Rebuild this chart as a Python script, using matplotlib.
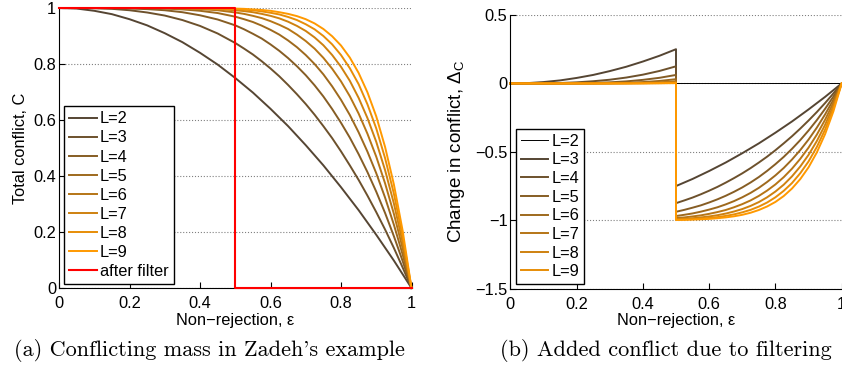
import matplotlib
matplotlib.use("Agg")
import matplotlib.pyplot as plt
import numpy as np

plt.rcParams["font.family"] = ["Liberation Sans", "DejaVu Sans"]

# non-rejection values the curves were read at
eps = [0.0, 0.05, 0.1, 0.15, 0.2, 0.25, 0.3, 0.35, 0.4, 0.45, 0.5,
       0.525, 0.55, 0.575, 0.6, 0.625, 0.65, 0.675, 0.7, 0.725, 0.75,
       0.775, 0.8, 0.825, 0.85, 0.875, 0.9, 0.925, 0.95, 0.975, 1.0]

# total conflict C for each L
c_L2 = [1.000, 0.998, 0.990, 0.978, 0.960, 0.938, 0.910, 0.878, 0.840, 0.798, 0.750,
        0.724, 0.698, 0.669, 0.640, 0.609, 0.578, 0.544, 0.510, 0.474, 0.438,
        0.399, 0.360, 0.319, 0.278, 0.234, 0.190, 0.144, 0.098, 0.049, 0.0]
c_L3 = [1.000, 1.000, 0.999, 0.997, 0.992, 0.984, 0.973, 0.957, 0.936, 0.909, 0.875,
        0.855, 0.834, 0.810, 0.784, 0.756, 0.725, 0.692, 0.657, 0.619, 0.578,
        0.535, 0.488, 0.438, 0.386, 0.330, 0.271, 0.209, 0.143, 0.073, 0.0]
c_L4 = [1.000, 1.000, 1.000, 0.999, 0.998, 0.996, 0.992, 0.985, 0.974, 0.959, 0.938,
        0.924, 0.908, 0.891, 0.870, 0.847, 0.821, 0.792, 0.760, 0.724, 0.684,
        0.639, 0.590, 0.537, 0.478, 0.414, 0.344, 0.268, 0.185, 0.096, 0.0]
c_L5 = [1.000, 1.000, 1.000, 1.000, 1.000, 0.999, 0.998, 0.995, 0.990, 0.982, 0.969,
        0.960, 0.950, 0.937, 0.922, 0.905, 0.884, 0.860, 0.832, 0.800, 0.763,
        0.720, 0.672, 0.618, 0.556, 0.487, 0.410, 0.323, 0.226, 0.119, 0.0]
c_L6 = [1.000, 1.000, 1.000, 1.000, 1.000, 1.000, 0.999, 0.998, 0.996, 0.992, 0.984,
        0.979, 0.972, 0.964, 0.953, 0.940, 0.925, 0.905, 0.882, 0.855, 0.822,
        0.783, 0.738, 0.685, 0.623, 0.551, 0.469, 0.374, 0.265, 0.141, 0.0]
c_L7 = [1.000, 1.000, 1.000, 1.000, 1.000, 1.000, 1.000, 0.999, 0.998, 0.996, 0.992,
        0.989, 0.985, 0.979, 0.972, 0.963, 0.951, 0.936, 0.918, 0.895, 0.867,
        0.832, 0.790, 0.740, 0.679, 0.607, 0.522, 0.421, 0.302, 0.162, 0.0]
c_L8 = [1.000, 1.000, 1.000, 1.000, 1.000, 1.000, 1.000, 1.000, 0.999, 0.998, 0.996,
        0.994, 0.992, 0.988, 0.983, 0.977, 0.968, 0.957, 0.942, 0.924, 0.900,
        0.870, 0.832, 0.785, 0.728, 0.656, 0.570, 0.464, 0.337, 0.183, 0.0]
c_L9 = [1.000, 1.000, 1.000, 1.000, 1.000, 1.000, 1.000, 1.000, 1.000, 0.999, 0.998,
        0.997, 0.995, 0.993, 0.990, 0.985, 0.979, 0.971, 0.960, 0.945, 0.925,
        0.899, 0.866, 0.823, 0.768, 0.699, 0.613, 0.504, 0.370, 0.204, 0.0]
curves = [c_L2, c_L3, c_L4, c_L5, c_L6, c_L7, c_L8, c_L9]
labels_a = ["L=2", "L=3", "L=4", "L=5", "L=6", "L=7", "L=8", "L=9"]

# conflict after the filter (step at the cutoff)
cutoff = 0.5
filter_eps = [0.0, 0.5, 0.5, 1.0]
filter_c = [1.0, 1.0, 0.0, 0.0]

# legend of panel b (the zero line took the first label)
labels_b = ["L=2", "L=3", "L=4", "L=5", "L=6", "L=7", "L=8", "L=9"]

xticks = [0, 0.2, 0.4, 0.6, 0.8, 1]
xticklabels = ["0", "0.2", "0.4", "0.6", "0.8", "1"]
yticks_a = [0, 0.2, 0.4, 0.6, 0.8, 1]
yticklabels_a = ["0", "0.2", "0.4", "0.6", "0.8", "1"]
yticks_b = [-1.5, -1, -0.5, 0, 0.5]
yticklabels_b = ["\u22121.5", "\u22121", "\u22120.5", "0", "0.5"]

c0 = np.array([0x55, 0x45, 0x33]) / 255
c1 = np.array([0xff, 0x99, 0x00]) / 255
colors = [tuple(c0 + (c1 - c0) * t) for t in np.linspace(0, 1, len(curves))]

W, H = 842, 371
fig = plt.figure(figsize=(W / 100, H / 100), dpi=100)
ax1 = fig.add_axes([59 / W, 1 - 288 / H, 352.5 / W, 280 / H])
ax2 = fig.add_axes([510.3 / W, 1 - 288.7 / H, 331.4 / W, 273.7 / H])

FS = 11.8


def style_axes(ax):
    for s in ["top", "right"]:
        ax.spines[s].set_visible(False)
    for s in ["left", "bottom"]:
        ax.spines[s].set_linewidth(0.8)
    ax.tick_params(direction="in", length=4, width=0.8, labelsize=FS,
                   top=False, right=False)
    ax.tick_params(axis="x", pad=6)
    ax.tick_params(axis="y", pad=2)
    ax.yaxis.grid(True, linestyle=":", color="#808080", linewidth=0.8)
    ax.set_axisbelow(True)


# panel a
style_axes(ax1)
for c, lab, col in zip(curves, labels_a, colors):
    ax1.plot(eps, c, color=col, linewidth=1.4, label=lab, clip_on=False)
ax1.plot(filter_eps, filter_c, color="#ff0000", linewidth=1.5,
         label="after filter", clip_on=False, zorder=3)
ax1.set_xlim(0, 1)
ax1.set_ylim(0, 1)
ax1.set_xticks(xticks)
ax1.set_xticklabels(xticklabels)
ax1.set_yticks(yticks_a)
ax1.set_yticklabels(yticklabels_a)
ax1.set_xlabel("Non\u2212rejection, \u03b5", fontsize=FS, labelpad=1)
ax1.set_ylabel("Total conflict, C", fontsize=FS, labelpad=4)
leg1 = ax1.legend(loc="lower left", bbox_to_anchor=(0.014, 0.014),
                  borderaxespad=0, fontsize=FS, fancybox=False, framealpha=1,
                  edgecolor="black", labelspacing=0.25, handlelength=1.7,
                  handletextpad=0.2, borderpad=0.3)
leg1.get_frame().set_linewidth(1.0)
leg1.set_zorder(5)

# panel b: change in conflict = after filter - before
style_axes(ax2)
zero_line, = ax2.plot([0, 1], [0, 0], color="black", linewidth=0.7,
                      clip_on=False)
eps_arr = np.array(eps)
lo = eps_arr <= cutoff
hi = eps_arr >= cutoff
after_lo = np.interp(eps_arr[lo], filter_eps[:2], filter_c[:2])
after_hi = np.interp(eps_arr[hi], filter_eps[2:], filter_c[2:])
lines_b = []
for c, col in zip(curves, colors):
    c = np.array(c)
    x = np.concatenate([eps_arr[lo], eps_arr[hi]])
    d = np.concatenate([after_lo - c[lo], after_hi - c[hi]])
    ln, = ax2.plot(x, d, color=col, linewidth=1.4, clip_on=False)
    lines_b.append(ln)
ax2.set_xlim(0, 1)
ax2.set_ylim(-1.5, 0.5)
ax2.set_xticks(xticks)
ax2.set_xticklabels(xticklabels)
ax2.set_yticks(yticks_b)
ax2.set_yticklabels(yticklabels_b)
ax2.set_xlabel("Non\u2212rejection, \u03b5", fontsize=FS, labelpad=1)
ax2.set_ylabel("Change in conflict, \u0394$_\\mathregular{C}$", fontsize=13.5,
               labelpad=6)
leg2 = ax2.legend([zero_line] + lines_b[:7], labels_b, loc="lower left",
                  bbox_to_anchor=(0.016, 0.017), borderaxespad=0, fontsize=FS,
                  fancybox=False, framealpha=1, edgecolor="black",
                  labelspacing=0.22, handlelength=1.7, handletextpad=0.2,
                  borderpad=0.3)
leg2.get_frame().set_linewidth(1.0)

# sub-captions
cap_font = ["cmr10", "DejaVu Serif"]
fig.text(209 / W, 1 - 351 / H, "(a) Conflicting mass in Zadeh's example",
         family=cap_font, fontsize=16, ha="center", va="center")
fig.text(666 / W, 1 - 351 / H, "(b) Added conflict due to filtering",
         family=cap_font, fontsize=16, ha="center", va="center")

fig.savefig("out.png", dpi=100)
